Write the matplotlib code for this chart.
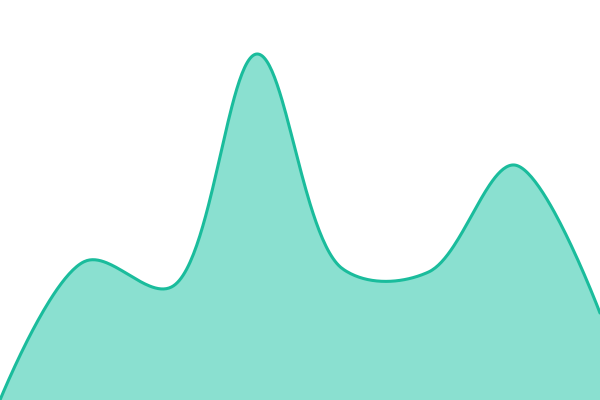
import numpy as np
import matplotlib.pyplot as plt

# values (one per step, equal spacing)
steps = [0, 1, 2, 3, 4, 5, 6, 7]
values = [0, 139, 113, 346, 131, 128, 235, 87]

line_color = "#1abc9c"
fill_color = "#8ae0d0"

W, H = 600, 400


def catmull_rom(px, py, alpha=0.5, n=60):
    # centripetal catmull-rom, same end handling as d3.curveCatmullRom
    pts = np.column_stack([px, py]).astype(float)
    t = np.linspace(0, 1, n)
    out = [pts[:1]]
    for i in range(len(pts) - 1):
        p1, p2 = pts[i], pts[i + 1]
        l12 = np.hypot(*(p2 - p1)) ** alpha
        c1 = p1.copy()
        c2 = p2.copy()
        if i > 0:
            p0 = pts[i - 1]
            l01 = np.hypot(*(p1 - p0)) ** alpha
            a = 2 * l01 ** 2 + 3 * l01 * l12 + l12 ** 2
            m = 3 * l01 * (l01 + l12)
            c1 = (p1 * a - p0 * l12 ** 2 + p2 * l01 ** 2) / m
        if i < len(pts) - 2:
            p3 = pts[i + 2]
            l23 = np.hypot(*(p3 - p2)) ** alpha
            b = 2 * l23 ** 2 + 3 * l23 * l12 + l12 ** 2
            m = 3 * l23 * (l23 + l12)
            c2 = (p2 * b + p1 * l23 ** 2 - p3 * l12 ** 2) / m
        tt = t[1:, None]
        seg = (1 - tt) ** 3 * p1 + 3 * (1 - tt) ** 2 * tt * c1 + 3 * (1 - tt) * tt ** 2 * c2 + tt ** 3 * p2
        out.append(seg)
    out = np.vstack(out)
    return out[:, 0], out[:, 1]


# work in pixel space so the centripetal spacing matches the picture
px = np.array(steps) * W / steps[-1]
py = np.array(values, dtype=float)
sx, sy = catmull_rom(px, py)

fig = plt.figure(figsize=(6, 4), dpi=100)
ax = fig.add_axes([0, 0, 1, 1])
ax.fill_between(sx, 0, sy, color=fill_color, linewidth=0)
ax.plot(sx, sy, color=line_color, linewidth=2.2, solid_capstyle="round")
ax.set_xlim(0, W)
ax.set_ylim(0, H)
ax.axis("off")
fig.savefig("out.png", dpi=100)
